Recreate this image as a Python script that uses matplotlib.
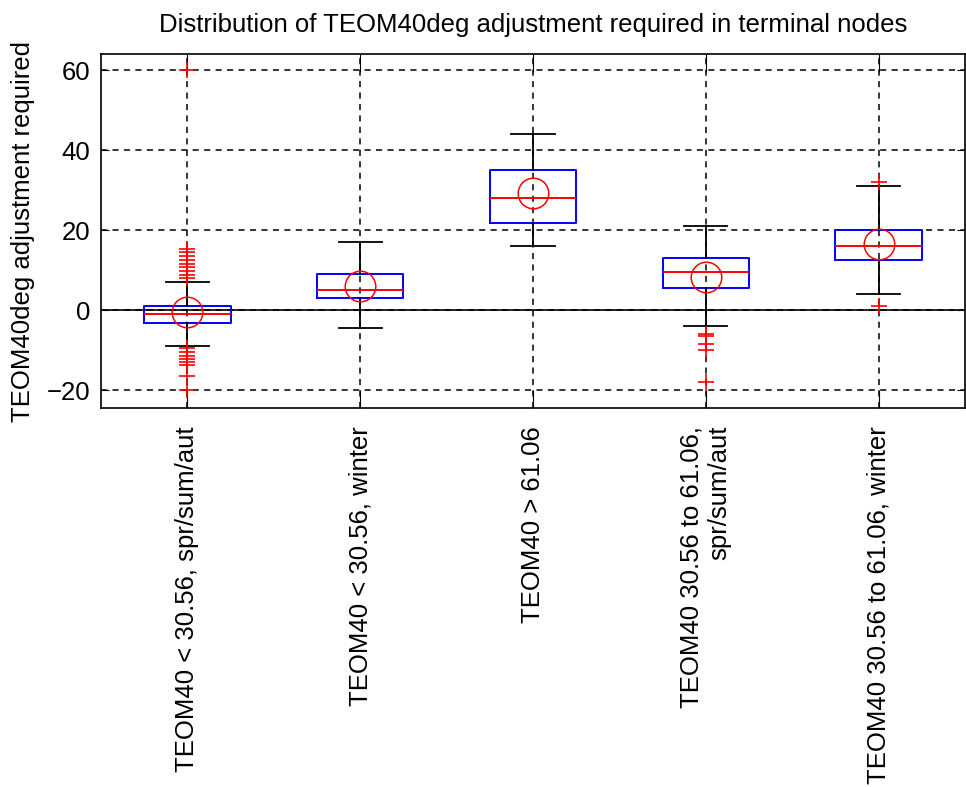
import numpy as np
import matplotlib.pyplot as plt

plt.rcParams['font.family'] = ['Liberation Sans', 'DejaVu Sans']

# groups (terminal nodes)
labels = ['TEOM40 < 30.56, spr/sum/aut',
          'TEOM40 < 30.56, winter',
          'TEOM40 > 61.06',
          'TEOM40 30.56 to 61.06,\nspr/sum/aut',
          'TEOM40 30.56 to 61.06, winter']

# box statistics
q1 = [-3.2, 2.9, 21.8, 5.4, 12.5]
med = [-1.0, 5.0, 28.0, 9.5, 16.0]
q3 = [1.1, 8.9, 35.0, 12.9, 20.0]
whislo = [-8.9, -4.5, 15.9, -4.0, 4.0]
whishi = [7.1, 17.1, 44.0, 21.1, 31.0]
means = [-0.4, 6.0, 29.2, 8.2, 16.5]

# outliers
fliers1 = [8, 8.8, 9.8, 10.8, 11.6, 12.6, 13.6, 14.5, 15.2, 60,
           -9.6, -10.5, -11.4, -12.2, -13.0, -13.8, -16.5, -20]
fliers2 = []
fliers3 = []
fliers4 = [-6.0, -6.4, -8.5, -10.0, -18.0]
fliers5 = [32.0, 1.0]
fliers = [fliers1, fliers2, fliers3, fliers4, fliers5]

stats = []
for i in range(len(labels)):
    stats.append(dict(q1=q1[i], med=med[i], q3=q3[i], whislo=whislo[i],
                      whishi=whishi[i], mean=means[i], fliers=np.array(fliers[i])))

fig = plt.figure(figsize=(9.66, 7.87), dpi=100)
ax = fig.add_axes([101 / 966, 1 - 408 / 787, 864 / 966, 354 / 787])

fs = 18.5
dash = (0, (4, 3.5))

ax.bxp(stats, positions=range(1, 6), widths=0.5, capwidths=0.25,
       showmeans=True,
       boxprops=dict(color='blue', lw=1.4),
       medianprops=dict(color='red', lw=1.4),
       whiskerprops=dict(color='black', lw=1.3),
       capprops=dict(color='black', lw=1.3),
       flierprops=dict(marker='+', markeredgecolor='red', markersize=12, markeredgewidth=1.2),
       meanprops=dict(marker='o', markerfacecolor='none', markeredgecolor='red',
                      markersize=22, markeredgewidth=1.1),
       zorder=3)

ax.axhline(0, color='black', lw=1.2, zorder=2)

ax.set_xlim(0.5, 5.5)
ax.set_ylim(-24.5, 64)
ax.set_yticks([-20, 0, 20, 40, 60])
ax.set_xticks(range(1, 6))
ax.set_xticklabels(labels, rotation=90, fontsize=fs, va='top', ha='center',
                   multialignment='right')
ax.tick_params(axis='y', labelsize=fs, direction='in', length=6, pad=8, right=True)
ax.tick_params(axis='x', direction='in', length=13, pad=13, top=True)

ax.grid(True, color='black', linestyle=dash, lw=1.1)
ax.set_axisbelow(True)
for s in ax.spines.values():
    s.set_linewidth(1.2)

ax.set_ylabel('TEOM40deg adjustment required', fontsize=fs, labelpad=8)
ax.set_title('Distribution of TEOM40deg adjustment required in terminal nodes',
             fontsize=fs, pad=16)

fig.savefig('out.png', dpi=100)
